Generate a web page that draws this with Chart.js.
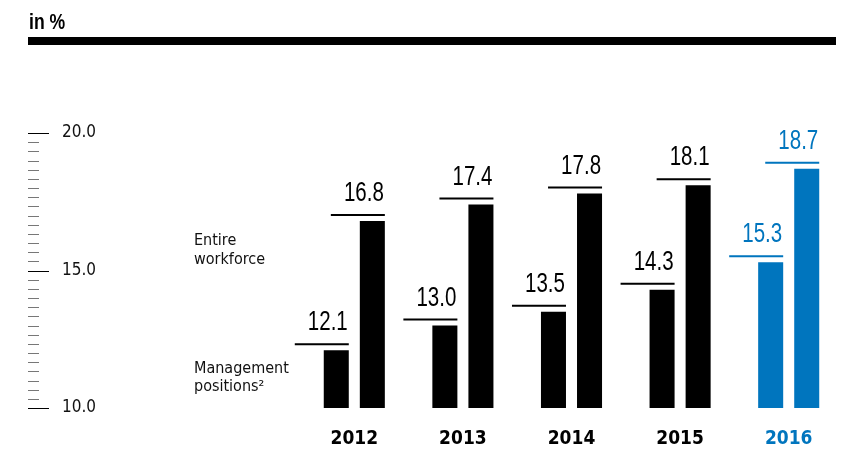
<!DOCTYPE html>
<html>
<head>
<meta charset="utf-8">
<script src="https://cdn.jsdelivr.net/npm/chart.js@4/dist/chart.umd.min.js"></script>
<style>
  html, body { margin: 0; padding: 0; background: #fff; }
  #wrap { width: 850px; height: 450px; position: relative; }
</style>
</head>
<body>
<div id="wrap"><canvas id="chart"></canvas></div>
<script>
const years = ["2012", "2013", "2014", "2015", "2016"];
const management = [12.1, 13.0, 13.5, 14.3, 15.3];
const workforce = [16.8, 17.4, 17.8, 18.1, 18.7];
const axisMin = 10;
const axisMax = 20;
const majorStep = 5;
const minorStep = 1 / 3;

const BLACK = "#000000";
const BLUE = "#0075be";
const FONT = "'DejaVu Sans Condensed', 'DejaVu Sans', sans-serif";
const NUM_FONT = "'Liberation Sans', Arial, sans-serif";

const barColors = years.map((y, i) => (i === years.length - 1 ? BLUE : BLACK));

function isMajor(v) {
  return Math.abs(v - Math.round(v / majorStep) * majorStep) < 1e-6;
}

// draw text squeezed horizontally (condensed look)
function narrowText(ctx, text, x, y, squeeze) {
  ctx.save();
  ctx.translate(x, y);
  ctx.scale(squeeze, 1);
  ctx.fillText(text, 0, 0);
  ctx.restore();
}

// header, axis tick marks, series notes and value labels
const decorPlugin = {
  id: "decor",
  afterDraw(chart) {
    const ctx = chart.ctx;
    const yScale = chart.scales.y;
    ctx.save();

    // header
    ctx.fillStyle = BLACK;
    ctx.font = "bold 22px " + NUM_FONT;
    ctx.textBaseline = "alphabetic";
    ctx.textAlign = "left";
    narrowText(ctx, "in %", 29, 29, 0.8);
    ctx.fillRect(28, 37, 808, 8);

    // tick marks left of the labels
    yScale.ticks.forEach((t, i) => {
      const y = Math.round(yScale.getPixelForTick(i)) + 0.5;
      const major = isMajor(t.value);
      ctx.strokeStyle = major ? BLACK : "#777777";
      ctx.lineWidth = 1;
      ctx.beginPath();
      ctx.moveTo(28, y);
      ctx.lineTo(major ? 49 : 39, y);
      ctx.stroke();
    });

    // series notes
    ctx.fillStyle = "#111";
    ctx.font = "16px " + FONT;
    ctx.fillText("Entire", 194, 245);
    ctx.fillText("workforce", 194, 264);
    ctx.fillText("Management", 194, 373);
    ctx.fillText("positions\u00b2", 194, 391);

    // value labels with lines
    chart.data.datasets.forEach((ds, di) => {
      const meta = chart.getDatasetMeta(di);
      meta.data.forEach((bar, i) => {
        const right = bar.x + bar.width / 2;
        const top = bar.y;
        ctx.fillStyle = barColors[i];
        ctx.fillRect(right - 54, top - 7, 54, 2);
        ctx.font = "27px " + NUM_FONT;
        ctx.textAlign = "right";
        narrowText(ctx, ds.data[i].toFixed(1), right - 1, top - 20, 0.76);
      });
    });
    ctx.restore();
  }
};

new Chart(document.getElementById("chart"), {
  type: "bar",
  data: {
    labels: years,
    datasets: [
      { label: "Management positions²", data: management, backgroundColor: barColors },
      { label: "Entire workforce", data: workforce, backgroundColor: barColors }
    ]
  },
  options: {
    responsive: true,
    maintainAspectRatio: false,
    animation: false,
    categoryPercentage: 0.664,
    barPercentage: 0.694,
    layout: { padding: { left: 62, right: 7, top: 133, bottom: 0 } },
    plugins: { legend: { display: false }, tooltip: { enabled: false } },
    scales: {
      x: {
        afterFit(scale) { scale.height = 42; },
        grid: { display: false, drawTicks: false },
        border: { display: false },
        ticks: {
          padding: 22,
          font: { family: FONT, size: 19, weight: "bold", lineHeight: 1 },
          color: (c) => barColors[c.index] || BLACK
        }
      },
      y: {
        min: axisMin,
        max: axisMax,
        afterFit(scale) { scale.width = 238; },
        grid: { display: false, drawTicks: false },
        border: { display: false },
        ticks: {
          stepSize: minorStep,
          autoSkip: false,
          crossAlign: "far",
          padding: 0,
          color: "#111",
          font: { family: FONT, size: 17 },
          callback: (v) => (isMajor(v) ? Number(v).toFixed(1) : "")
        }
      }
    }
  },
  plugins: [decorPlugin]
});
</script>
</body>
</html>
